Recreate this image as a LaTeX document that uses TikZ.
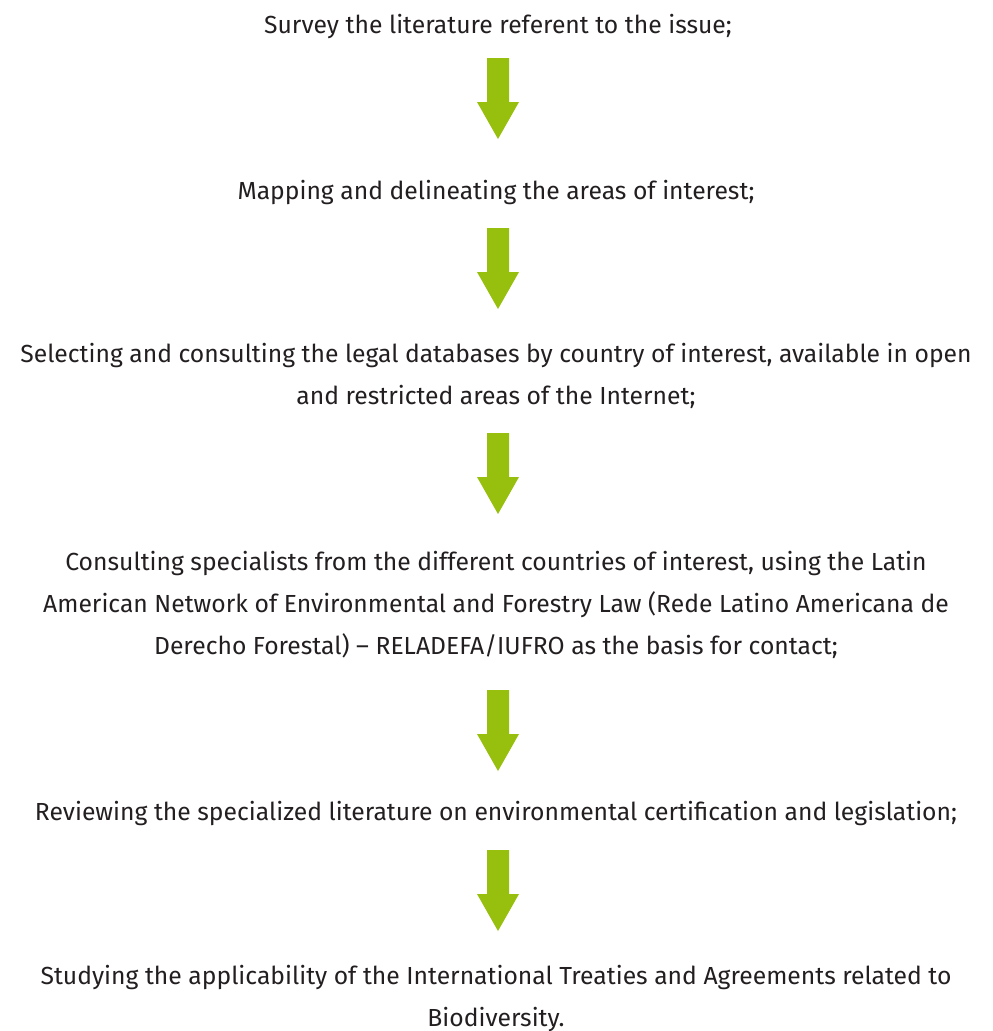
\documentclass[tikz,border=0pt]{standalone}
\usepackage{fontspec}
\setmainfont{Fira Sans}
\definecolor{arrowgreen}{HTML}{97BF0D}
\definecolor{txt}{HTML}{231F20}
\begin{document}
\begin{tikzpicture}[x=1pt,y=-1pt,
  step text/.style={anchor=base, align=center, inner sep=0pt, text=txt,
    font=\fontsize{24.7}{42}\selectfont},
  downarrow/.pic={\fill[arrowgreen] (-11,0) -- (11,0) -- (11,44) -- (21,44) -- (0,81) -- (-21,44) -- (-11,44) -- cycle;}]
\useasboundingbox (0,0) rectangle (993,1031);
\node[step text] (t1) at (498,33) {Survey the literature referent to the issue;};
\pic at (498,58) {downarrow};
\node[step text] (t2) at (496,199) {Mapping and delineating the areas of interest;};
\pic at (498,228) {downarrow};
\node[step text] (t3) at (496,404) {Selecting and consulting the legal databases by country of interest, available in open\\and restricted areas of the Internet;};
\pic at (498,433) {downarrow};
\node[step text] (t4) at (496,654) {Consulting specialists from the different countries of interest, using the Latin\\American Network of Environmental and Forestry Law (Rede Latino Americana de\\Derecho Forestal) -- RELADEFA/IUFRO as the basis for contact;};
\pic at (498,690) {downarrow};
\node[step text] (t5) at (496,820) {Reviewing the specialized literature on environmental certification and legislation;};
\pic at (498,850) {downarrow};
\node[step text] (t6) at (496,1026) {Studying the applicability of the International Treaties and Agreements related to\\Biodiversity.};
\end{tikzpicture}
\end{document}
